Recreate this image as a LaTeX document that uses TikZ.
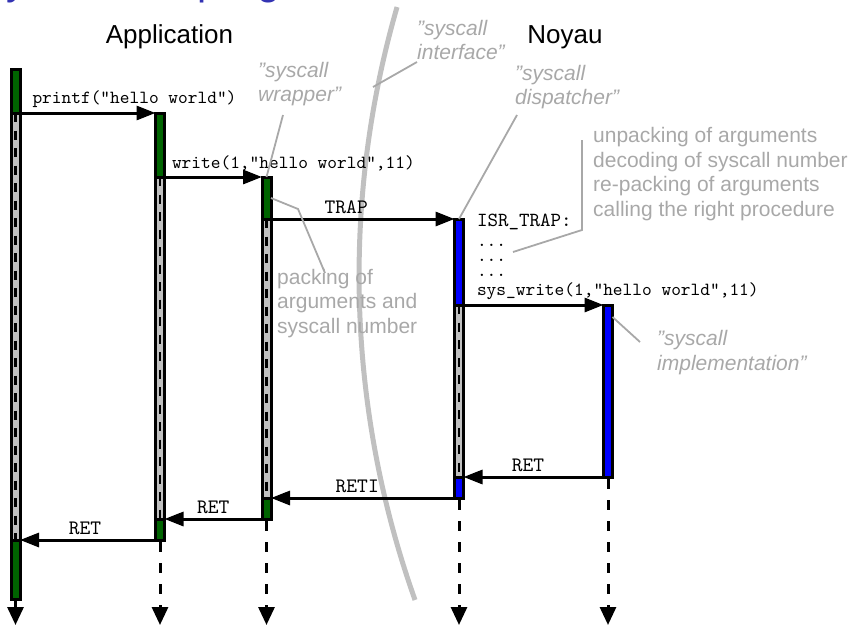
\documentclass[tikz,border=0pt]{standalone}
\usepackage{fontspec}
\setmainfont{Liberation Sans}
\newfontfamily\codefont{lmmono10-regular.otf}
\usetikzlibrary{arrows.meta}

\definecolor{actgreen}{RGB}{0,100,0}
\definecolor{actblue}{RGB}{0,0,255}
\definecolor{actgray}{RGB}{192,192,192}
\definecolor{titleblue}{RGB}{51,51,179}
\definecolor{annot}{RGB}{168,168,168}
\definecolor{arcgray}{RGB}{192,192,192}

\tikzset{
  act/.style={draw=black, line width=3pt, minimum width=9pt, inner sep=0pt,
    outer sep=0pt, anchor=north},
  actG/.style={act, fill=actgreen},
  actB/.style={act, fill=actblue},
  actI/.style={act, fill=actgray},
  msg/.style={line width=3pt, -{Triangle[length=19pt,width=14pt]}},
  life/.style={line width=3pt, dash pattern=on 10pt off 11pt, dash phase=19pt,
    -{Triangle[length=18pt,width=16pt]}},
  idle/.style={line width=2.5pt, dash pattern=on 9pt off 8.5pt},
  code/.style={font=\codefont\fontsize{18.5}{20}\selectfont, inner sep=0pt, outer sep=0pt},
  bigcode/.style={font=\codefont\fontsize{20.5}{22}\selectfont, inner sep=0pt, outer sep=0pt},
  head/.style={font=\fontsize{26}{30}\selectfont, inner sep=0pt, anchor=base},
  note/.style={text=annot, font=\fontsize{21}{24.5}\selectfont, align=left,
    inner sep=0pt, anchor=base west},
  quote/.style={note, font=\itshape\fontsize{21}{24.5}\selectfont},
  ptr/.style={draw=annot, line width=1.8pt},
  arcline/.style={draw=arcgray, line width=5pt},
  heading/.style={text=titleblue, font=\fontsize{41}{48}\selectfont, inner sep=0pt,
    anchor=base west},
}

\begin{document}
\begin{tikzpicture}[x=1pt,y=-1pt]
\useasboundingbox (0,0) rectangle (852,626);
\clip (0,0) rectangle (852,626);

% slide heading, mostly above the frame
\node[heading] (title) at (-21,-5) {Syscall in a program};

% boundary between user space and kernel
\draw[arcline] (1327,275.6) ++(196.11:968) coordinate (arcTop)
  arc[start angle=196.11, end angle=160.42, radius=968];

% column headings
\node[head] (app) at (169.5,44) {Application};
\node[head] (noyau) at (565,44) {Noyau};

% activations: main program
\node[actG, minimum height=43pt]  (m1) at (15.5,70) {};
\node[actI, minimum height=427pt] (m2) at (15.5,113) {};
\node[actG, minimum height=59pt]  (m3) at (15.5,540) {};
% printf
\node[actG, minimum height=64pt]  (p1) at (160,113) {};
\node[actI, minimum height=342pt] (p2) at (160,177) {};
\node[actG, minimum height=21pt]  (p3) at (160,519) {};
% syscall wrapper
\node[actG, minimum height=42pt]  (w1) at (266.5,177) {};
\node[actI, minimum height=279pt] (w2) at (266.5,219) {};
\node[actG, minimum height=21pt]  (w3) at (266.5,498) {};
% dispatcher
\node[actB, minimum height=86pt]  (d1) at (459,219) {};
\node[actI, minimum height=172pt] (d2) at (459,305) {};
\node[actB, minimum height=21pt]  (d3) at (459,477) {};
% implementation
\node[actB, minimum height=172pt] (i1) at (608,305) {};

% waiting phases
\foreach \s in {m2,p2,w2,d2} \draw[idle] (\s.north) -- (\s.south);

% lifelines continuing downwards
\coordinate (mEnd) at (15.5,625);
\coordinate (pEnd) at (160,625);
\coordinate (wEnd) at (266.5,625);
\coordinate (dEnd) at (459,625);
\coordinate (iEnd) at (608,625);
\draw[life] (m3.south) -- (mEnd);
\draw[life] (p3.south) -- (pEnd);
\draw[life] (w3.south) -- (wEnd);
\draw[life] (d3.south) -- (dEnd);
\draw[life] (i1.south) -- (iEnd);

% calls
\draw[msg] (m1.south east) -- (p1.north west)
  node[code, pos=0, anchor=south west, xshift=12.5pt, yshift=5.5pt] (lprintf)
  {printf("hello world")};
\draw[msg] (p1.south east) -- (w1.north west)
  node[code, pos=0, anchor=south west, xshift=7.5pt, yshift=5.5pt] (lwrite)
  {write(1,"hello world",11)};
\draw[msg] (w1.south east) -- (d1.north west)
  node[bigcode, pos=.41, above=5.5pt] (ltrap) {TRAP};
\draw[msg] (d1.south east) -- (i1.north west)
  node[code, pos=0, anchor=south west, xshift=13.5pt, yshift=5.5pt] (lsys)
  {sys\_write(1,"hello world",11)};

% returns
\draw[msg] (i1.south west) -- (d2.south east)
  node[bigcode, pos=.54, above=5.5pt] (lret1) {RET};
\draw[msg] (d3.south west) -- (w2.south east)
  node[bigcode, pos=.53, above=5.5pt] (lreti) {RETI};
\draw[msg] (w3.south west) -- (p2.south east)
  node[bigcode, pos=.5, above=5.5pt] (lret2) {RET};
\draw[msg] (p3.south west) -- (m2.south east)
  node[bigcode, pos=.52, above=5.5pt] (lret3) {RET};

% dispatcher code listing
\node[bigcode, anchor=base west, font=\codefont\fontsize{20}{22}\selectfont] (isr) at (477,226) {ISR\_TRAP:};
\node[code, anchor=base west, align=left, font=\codefont\fontsize{18.5}{15}\selectfont]
  (dots) at (477,276) {...\\...\\...};

% annotations (anchored on the baseline of their last line)
\node[quote] (nwrap) at (258,102) {”syscall\\wrapper”};
\node[quote] (nif) at (417,60) {”syscall\\interface”};
\node[quote] (ndisp) at (515,105) {”syscall\\dispatcher”};
\node[quote] (nimpl) at (657,370) {”syscall\\implementation”};
\node[note] (npack) at (277,333) {packing of\\arguments and\\syscall number};
\node[note] (nsteps) at (593,216)
  {unpacking of arguments\\decoding of syscall number\\re-packing of arguments\\calling the right procedure};

% annotation pointers
\coordinate (wrapFoot) at (283,115);
\draw[ptr] (wrapFoot) -- (w1.north);
\coordinate (ifFoot) at (417,62);
\coordinate (ifArc) at (373,87);
\draw[ptr] (ifFoot) -- (ifArc);
\coordinate (dispFoot) at (517,115);
\draw[ptr] (dispFoot) -- (d1.north);
\coordinate (packBend) at (298,209);
\coordinate (packFoot) at (325,273);
\draw[ptr] (w1.east) -- (packBend) -- (packFoot);
\coordinate (implFoot) at (640,342);
\draw[ptr] ([yshift=-12pt]i1.north east) -- (implFoot);
\coordinate (stepsA) at (513,252);
\coordinate (stepsB) at (582,230);
\coordinate (stepsC) at (582,140);
\draw[ptr] (stepsA) -- (stepsB) -- (stepsC);
\end{tikzpicture}
\end{document}
